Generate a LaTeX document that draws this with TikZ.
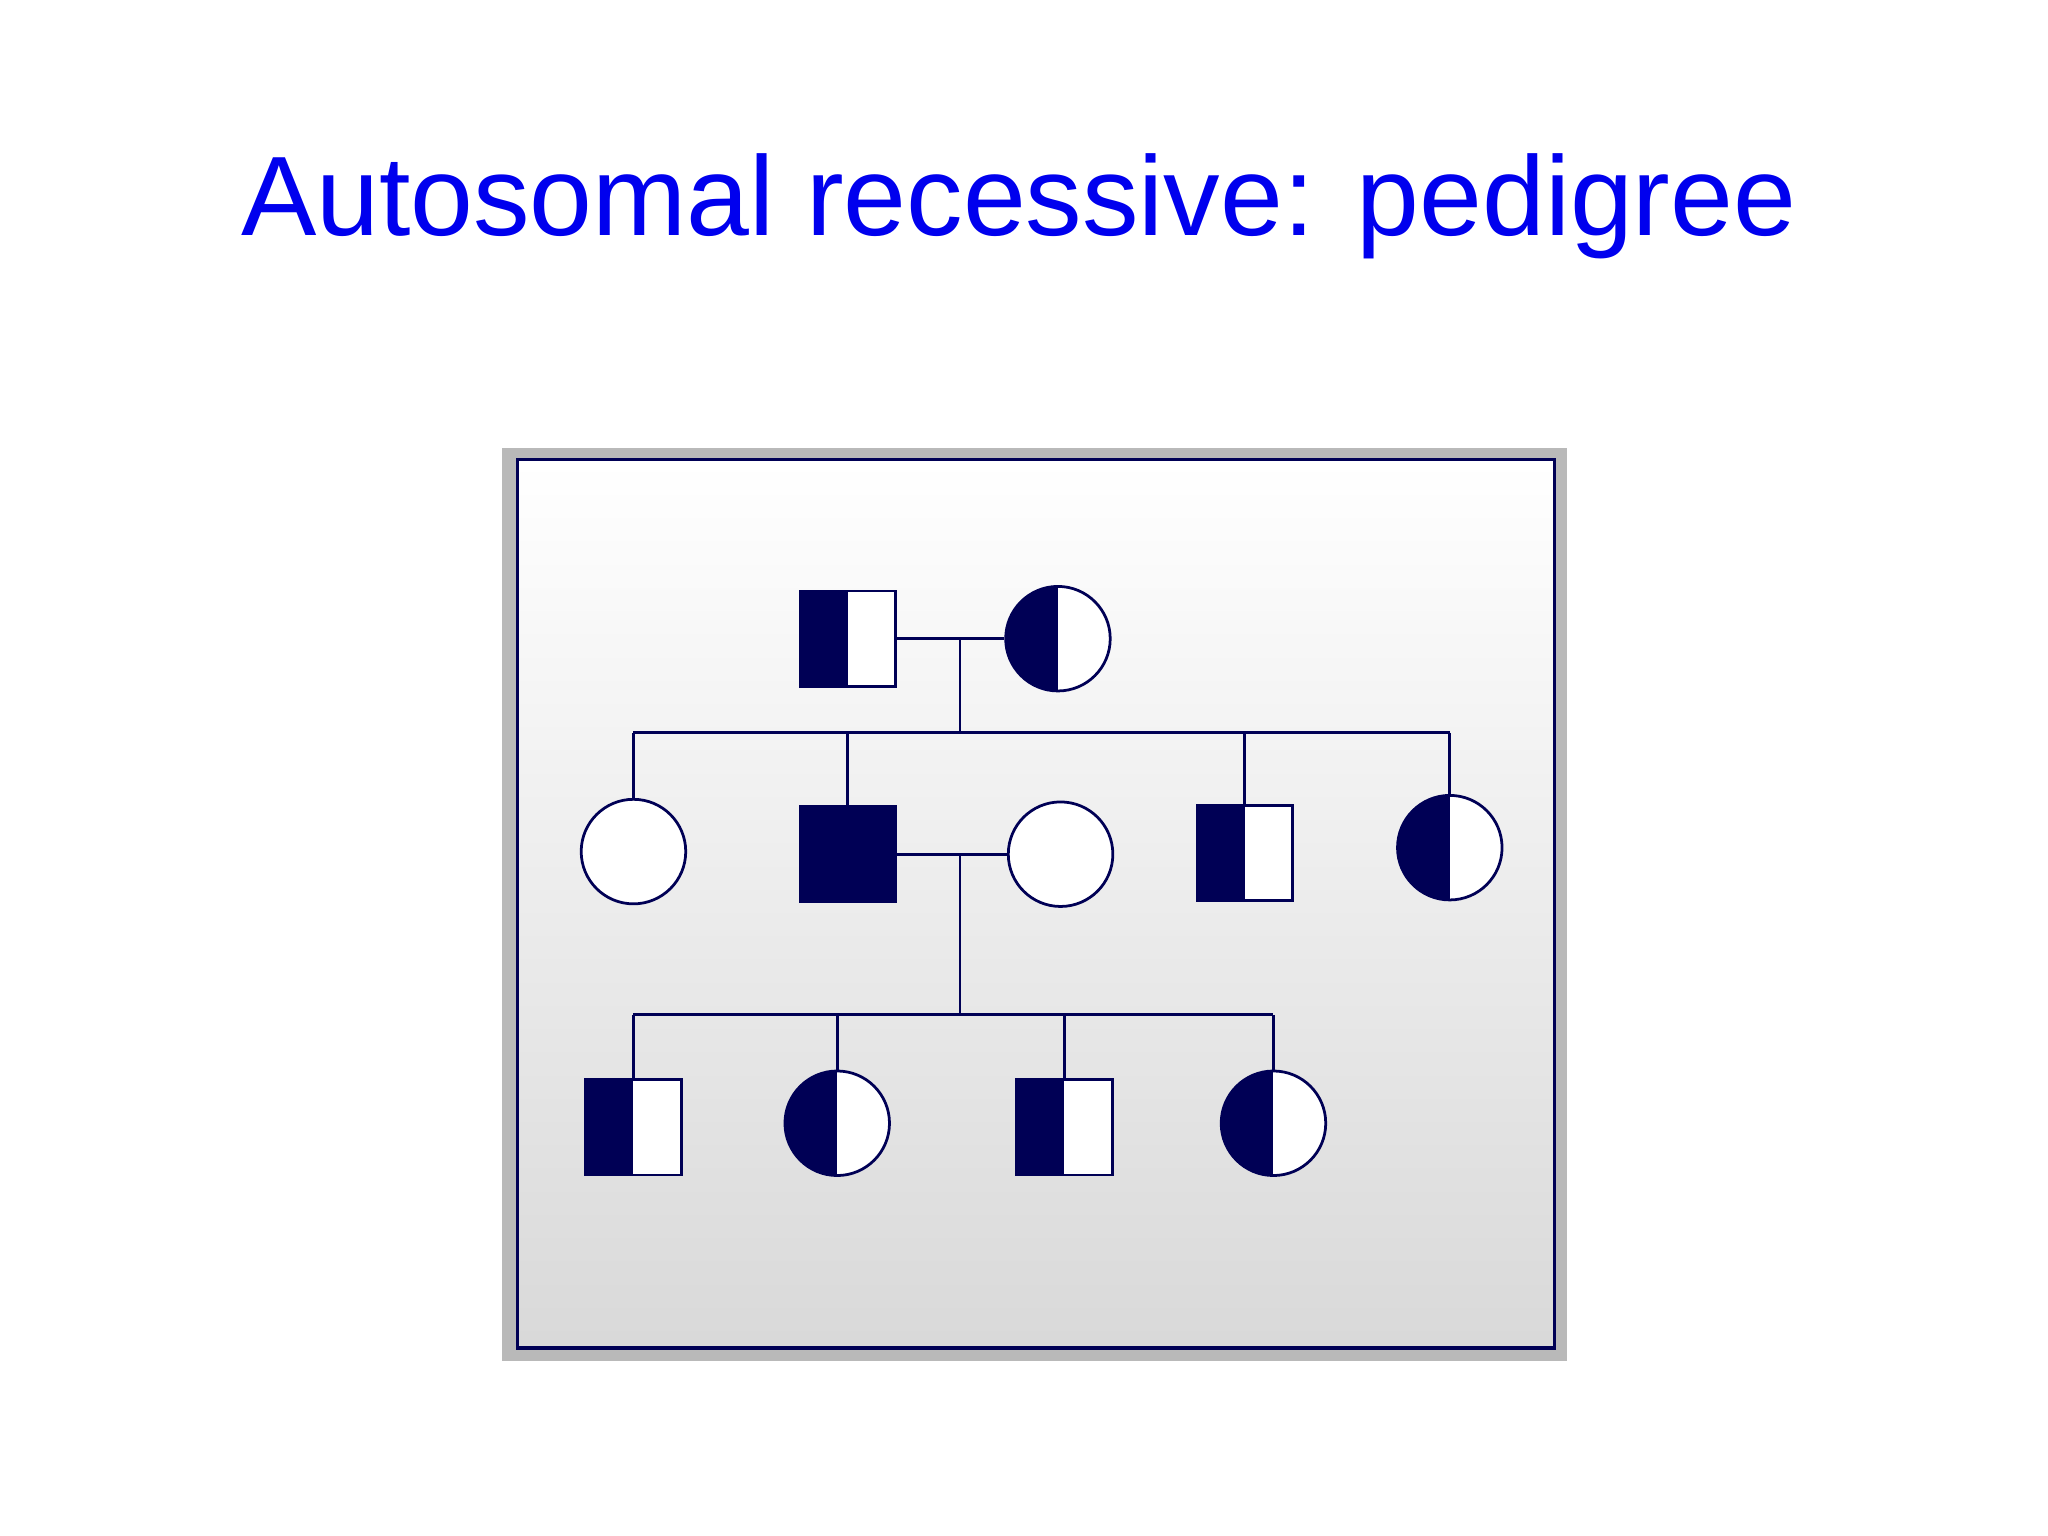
\documentclass[tikz,border=0pt]{standalone}
\usepackage{fontspec}
\setmainfont{Liberation Sans}
\begin{document}
\begin{tikzpicture}[x=0.01cm,y=-0.01cm,
  lw/.style={line width=0.6pt,draw=navy},
  male/.style={lw,rectangle,minimum size=0.73cm,inner sep=0pt,fill=white},
  female/.style={lw,circle,minimum size=0.8cm,inner sep=0pt,fill=white},
  carrier/.style={path picture={\fill[navy] (path picture bounding box.south west) rectangle (path picture bounding box.north);}},
  affected/.style={fill=navy}]
\definecolor{navy}{HTML}{000055}
\definecolor{title}{HTML}{0000EE}
\useasboundingbox (0,0) rectangle (1568,1176);
\fill[white] (0,0) rectangle (1568,1176);
\node[text=title,font=\fontsize{24.6}{30}\selectfont] (title) at (780,158) {Autosomal recessive: pedigree};
\fill[gray!55] (384,343) rectangle (1200,1042);
\shade[top color=white,bottom color=gray!30] (396,352) rectangle (1190,1032);
\draw[navy,line width=0.7pt] (396,352) rectangle (1190,1032);
% gen I
\node[male,carrier] (i1) at (649,489) {};
\node[female,carrier] (i2) at (810,489) {};
% gen II
\node[female] (ii1) at (485,652) {};
\node[male,affected] (ii2) at (649,654) {};
\node[female] (ii3) at (812,654) {};
\node[male,carrier] (ii4) at (953,653) {};
\node[female,carrier] (ii5) at (1110,649) {};
% gen III
\node[male,carrier] (iii1) at (485,863) {};
\node[female,carrier] (iii2) at (641,860) {};
\node[male,carrier] (iii3) at (815,863) {};
\node[female,carrier] (iii4) at (975,860) {};
% connectors
\coordinate (m1) at (735,489);
\coordinate (s1) at (735,561);
\draw[lw] (i1.east) -- (i2.west);
\draw[lw] (m1) -- (s1);
\draw[lw] (ii1.north |- s1) -- (ii5.north |- s1);
\foreach \c in {ii1,ii2,ii4,ii5} \draw[lw] (\c.north |- s1) -- (\c.north);
\coordinate (m2) at (735,654);
\coordinate (s2) at (735,777);
\draw[lw] (ii2.east) -- (ii3.west);
\draw[lw] (m2) -- (s2);
\draw[lw] (iii1.north |- s2) -- (iii4.north |- s2);
\foreach \c in {iii1,iii2,iii3,iii4} \draw[lw] (\c.north |- s2) -- (\c.north);
\end{tikzpicture}
\end{document}
